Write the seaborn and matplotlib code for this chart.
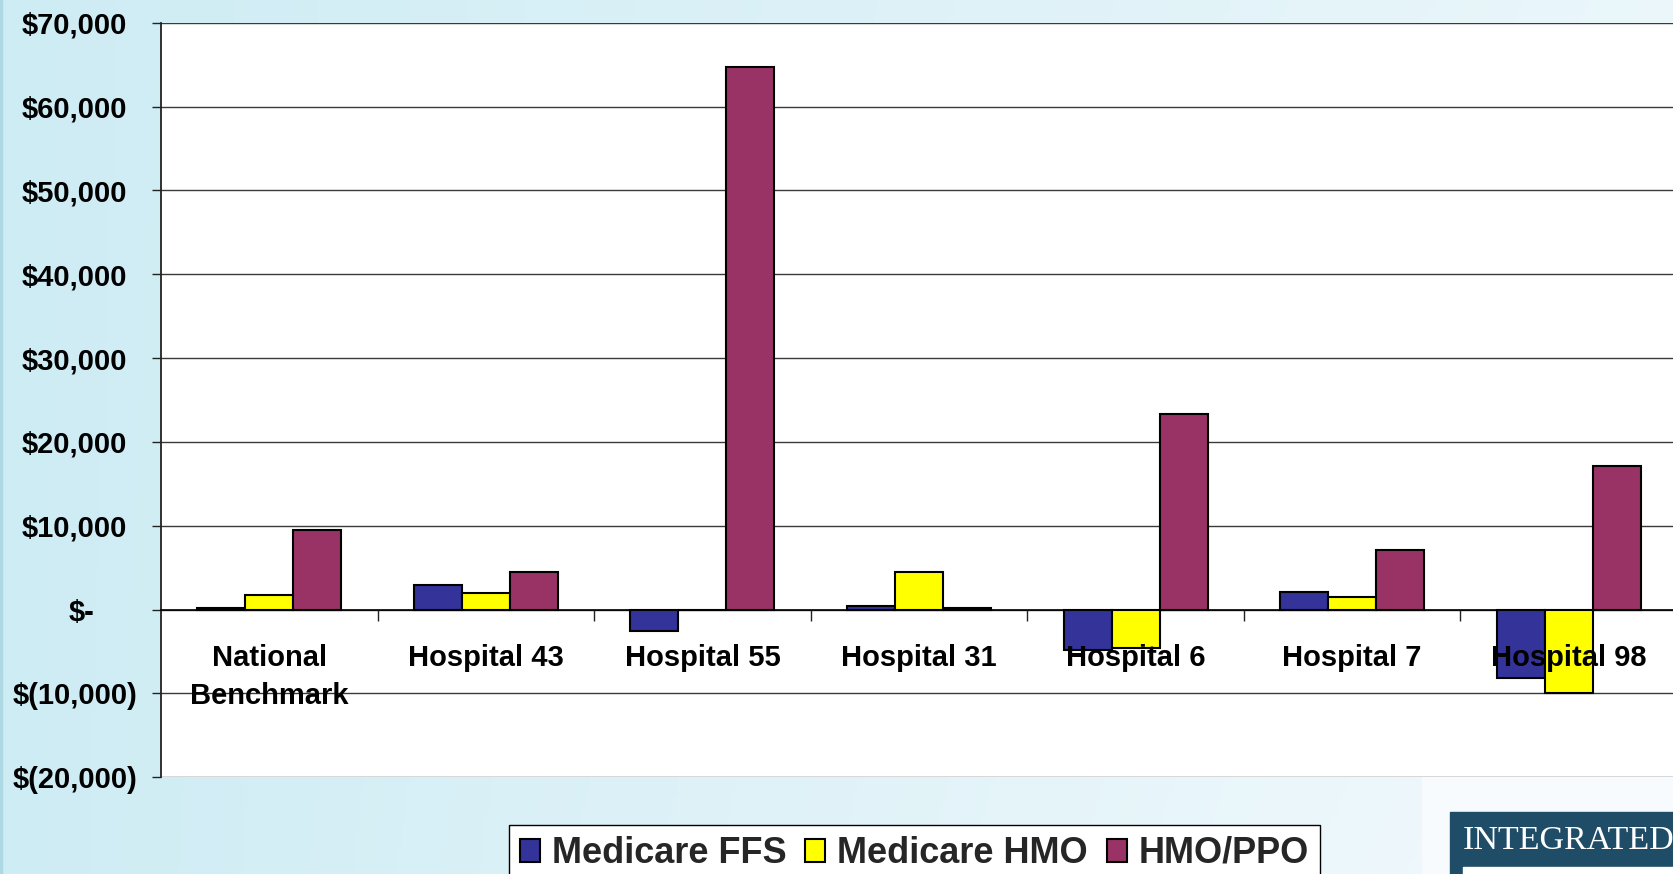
import numpy as np
import pandas as pd
import matplotlib
matplotlib.use("Agg")
import matplotlib.pyplot as plt
import matplotlib.transforms as mtransforms
from matplotlib.patches import Rectangle
import seaborn as sns

# ---- data ----
categories = ["National\nBenchmark", "Hospital 43", "Hospital 55", "Hospital 31",
              "Hospital 6", "Hospital 7", "Hospital 98"]
series_names = ["Medicare FFS", "Medicare HMO", "HMO/PPO"]
medicare_ffs = [250, 2900, -2500, 450, -4800, 2050, -8200]
medicare_hmo = [1800, 2000, 0, 4450, -4550, 1550, -10000]
hmo_ppo = [9550, 4450, 64750, 150, 23300, 7120, 17100]
y_ticks = [-20000, -10000, 0, 10000, 20000, 30000, 40000, 50000, 60000, 70000]
y_tick_labels = ["$(20,000)", "$(10,000)", "$-", "$10,000", "$20,000", "$30,000",
                 "$40,000", "$50,000", "$60,000", "$70,000"]
colors = {"Medicare FFS": "#333399", "Medicare HMO": "#FFFF00", "HMO/PPO": "#993366"}

df = pd.DataFrame({
    "category": categories * 3,
    "series": [series_names[0]] * 7 + [series_names[1]] * 7 + [series_names[2]] * 7,
    "value": medicare_ffs + medicare_hmo + hmo_ppo,
})

sns.set_theme(style="white")
plt.rcParams["font.family"] = ["Liberation Sans", "DejaVu Sans"]
plt.rcParams["font.weight"] = "bold"

W, H = 1673, 874
fig = plt.figure(figsize=(W / 100, H / 100), dpi=100)

# background gradient
bg = fig.add_axes([0, 0, 1, 1], zorder=-10)
xs = np.linspace(0, 1, 400)[None, :]
ys = np.linspace(0, 1, 200)[:, None]
t = np.clip(0.75 * xs + 0.25 * ys * xs, 0, 1)
left_c = np.array([206, 236, 244]) / 255
right_c = np.array([244, 250, 253]) / 255
img = left_c[None, None, :] * (1 - t[..., None]) + right_c[None, None, :] * t[..., None]
bg.imshow(img, aspect="auto", extent=[0, 1, 0, 1], origin="upper")
bg.set_axis_off()
bg.add_patch(Rectangle((0, 0), 2 / W, 1, transform=bg.transAxes, color="#aed8e4"))

# logo area
bg.add_patch(Rectangle((1422 / W, 0), 1, (H - 777) / H, transform=bg.transAxes,
                       color="#f7fbfd", zorder=2))
bg.add_patch(Rectangle((1450 / W, 0), 1, (H - 812) / H, transform=bg.transAxes,
                       color="#1f4d68", zorder=3))
bg.add_patch(Rectangle((1463 / W, 0), 1, (H - 867) / H, transform=bg.transAxes,
                       color="#ffffff", zorder=4))
bg.text(1463 / W, 1 - 841 / H, "INTEGRATED", transform=bg.transAxes, color="white",
        fontsize=24.5, family=["Liberation Serif", "DejaVu Serif"], fontweight="normal",
        va="center", ha="left", zorder=5)

ax = fig.add_axes([161 / W, 1 - 777.3 / H, (1677 - 161) / W, (777.3 - 22.7) / H])
ax.set_facecolor("white")

sns.barplot(data=df, x="category", y="value", hue="series", order=categories,
            hue_order=series_names, palette=colors, saturation=1, width=0.665, gap=0,
            edgecolor="black", linewidth=1.5, errorbar=None, ax=ax, zorder=3)

ax.set_xlim(-0.5, 6.5)
ax.set_ylim(-20000, 70000)
ax.set_yticks(y_ticks)
ax.set_yticklabels(y_tick_labels)
ax.set_xlabel("")
ax.set_ylabel("")

ax.yaxis.grid(True, color="#3a3a3a", linewidth=1.0)
ax.xaxis.grid(False)
ax.set_axisbelow(True)
ax.xaxis.set_zorder(5)

for s in ["top", "right"]:
    ax.spines[s].set_visible(False)
ax.spines["left"].set_color("#222222")
ax.spines["left"].set_linewidth(1.3)
ax.spines["bottom"].set_position(("data", 0))
ax.spines["bottom"].set_color("black")
ax.spines["bottom"].set_linewidth(1.2)
ax.spines["bottom"].set_zorder(4)

ax.tick_params(axis="y", which="major", left=True, direction="out", length=6.5,
               width=1.0, color="#222222", labelsize=21, pad=18, labelcolor="black")
ax.set_xticks(np.arange(0.5, 6.0, 1.0), minor=True)
ax.tick_params(axis="x", which="minor", bottom=True, direction="out", length=8,
               width=1.0, color="#222222")
ax.tick_params(axis="x", which="major", bottom=True, length=0, labelsize=21, pad=25,
               labelcolor="black")
for lab in ax.get_xticklabels():
    lab.set_fontweight("bold")
    lab.set_linespacing(1.45)
for lab in ax.get_yticklabels():
    lab.set_fontweight("bold")

# accounting format: "$-" sits left, negatives' ")" hang right
ylabs = ax.get_yticklabels()
ylabs[2].set_transform(ylabs[2].get_transform() +
                       mtransforms.ScaledTranslation(-33 / 100, 0, fig.dpi_scale_trans))
for i in (0, 1):
    ylabs[i].set_transform(ylabs[i].get_transform() +
                           mtransforms.ScaledTranslation(11 / 100, 0, fig.dpi_scale_trans))

handles, labels = ax.get_legend_handles_labels()
if ax.get_legend() is not None:
    ax.get_legend().remove()
leg = fig.legend(handles, labels, loc="upper left",
                 bbox_to_anchor=(509 / W, 1 - 825 / H), ncol=3, frameon=True,
                 fancybox=False, framealpha=1, edgecolor="black", facecolor="white",
                 prop={"size": 26, "weight": "bold"}, handlelength=0.55,
                 handleheight=0.6, handletextpad=0.33, columnspacing=0.53,
                 borderpad=0.3, borderaxespad=0)
leg.get_frame().set_linewidth(1.0)

fig.savefig("out.png", dpi=100)
